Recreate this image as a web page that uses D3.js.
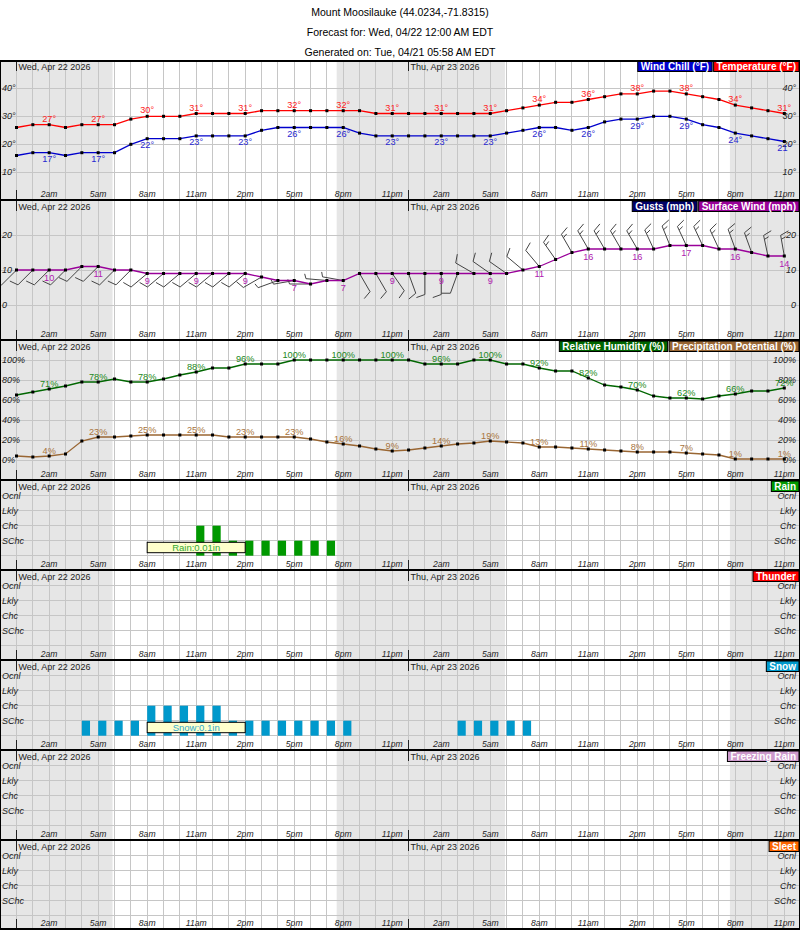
<!DOCTYPE html>
<html><head><meta charset="utf-8">
<script src="https://cdn.jsdelivr.net/npm/d3@7"></script>
<style>
body{margin:0;background:#fff;}
svg{display:block;font-family:"Liberation Sans",Arial,Helvetica,sans-serif;}
</style></head><body>
<svg id="chart" width="800" height="930"></svg>
<script>
// ---------------- DATA ----------------
const titleLines = [
  "Mount Moosilauke (44.0234,-71.8315)",
  "Forecast for: Wed, 04/22 12:00 AM EDT",
  "Generated on: Tue, 04/21 05:58 AM EDT"
];
const dayLabels = ["Wed, Apr 22 2026", "Thu, Apr 23 2026"];
const dayStartHours = [0, 24];
const tickHours = [2,5,8,11,14,17,20,23,26,29,32,35,38,41,44,47];
const tickLabels = ["2am","5am","8am","11am","2pm","5pm","8pm","11pm","2am","5am","8am","11am","2pm","5pm","8pm","11pm"];
const nightPeriods = [[-1.2, 5.88], [19.6, 29.9], [43.67, 49]];

const temperature = [26,27,27,26,27,27,27,29,30,30,30,31,31,31,31,32,32,32,32,32,32,32,31,31,
                     31,31,31,31,31,31,32,33,34,35,35,36,37,38,38,39,39,38,37,36,34,33,32,31];
const windChill   = [16,17,17,16,17,17,17,20,22,22,22,23,23,23,23,25,26,26,26,26,26,24,23,23,
                     23,23,23,23,23,23,24,25,26,26,25,26,28,29,29,30,30,29,27,26,24,23,22,21];
const windSpeed   = [10,10,10,10,11,11,10,10,9,9,9,9,9,9,9,8,7,7,6,7,7,9,9,9,
                     9,9,9,9,9,9,9,10,11,13,15,16,16,16,16,16,17,17,17,16,16,15,14,14];
const windDir     = [225,225,225,225,225,225,225,225,230,230,230,230,230,230,230,240,250,260,270,275,280,150,150,145,
                     160,180,180,200,300,305,305,310,320,325,330,330,330,330,330,335,338,335,335,335,340,340,348,350];
const humidity    = [65,68,71,74,78,78,81,78,78,81,85,88,92,92,96,96,96,100,100,100,100,100,100,100,
                     100,96,96,96,100,100,96,96,92,89,89,82,75,73,70,64,62,62,61,64,66,69,69,72];
const precipPot   = [4,3,4,6,19,23,23,24,25,25,25,25,25,23,23,23,23,23,21,18,16,14,11,9,
                     10,12,14,16,17,19,18,17,13,13,12,11,10,9,8,8,8,7,6,5,1,1,1,1];
// category levels: 0 none, 1 SChc, 2 Chc, 3 Lkly, 4 Ocnl
const rainLevel   = [0,0,0,0,0,0,0,0,0,0,0,2,2,1,1,1,1,1,1,1,0,0,0,0,
                     0,0,0,0,0,0,0,0,0,0,0,0,0,0,0,0,0,0,0,0,0,0,0,0];
const thunderLevel= [0,0,0,0,0,0,0,0,0,0,0,0,0,0,0,0,0,0,0,0,0,0,0,0,
                     0,0,0,0,0,0,0,0,0,0,0,0,0,0,0,0,0,0,0,0,0,0,0,0];
const snowLevel   = [0,0,0,0,1,1,1,1,2,2,2,2,2,1,1,1,1,1,1,1,1,0,0,0,
                     0,0,0,1,1,1,1,1,0,0,0,0,0,0,0,0,0,0,0,0,0,0,0,0];
const frzRainLevel= [0,0,0,0,0,0,0,0,0,0,0,0,0,0,0,0,0,0,0,0,0,0,0,0,
                     0,0,0,0,0,0,0,0,0,0,0,0,0,0,0,0,0,0,0,0,0,0,0,0];
const sleetLevel  = [0,0,0,0,0,0,0,0,0,0,0,0,0,0,0,0,0,0,0,0,0,0,0,0,
                     0,0,0,0,0,0,0,0,0,0,0,0,0,0,0,0,0,0,0,0,0,0,0,0];
const categoryNames = ["SChc","Chc","Lkly","Ocnl"];
const qpfPeriod = [8, 14];
const rainTotalText = "Rain:0.01in";
const snowTotalText = "Snow:0.1in";
const tempTicks = [10,20,30,40];
const windTicks = [0,10,20];
const pctTicks = [0,20,40,60,80,100];

// ---------------- DRAW ----------------
const svg = d3.select("#chart");
const W = 800;
const x = d3.scaleLinear().domain([0, 47]).range([16.5, 784.3]);
const hourIdx = temperature.map((d, i) => i);

svg.append("g").selectAll("text").data(titleLines).join("text")
  .attr("x", 400).attr("y", (d, i) => 15.5 + i * 20)
  .attr("text-anchor", "middle").attr("font-size", 10.5).attr("fill", "#000").text(d => d);

function drawBase(top, bottom, y, gridVals) {
  const g = svg.append("g");
  g.append("rect").attr("x", 0).attr("y", top).attr("width", W).attr("height", bottom - top).attr("fill", "#fff");
  g.selectAll("rect.night").data(nightPeriods).join("rect").attr("class", "night")
    .attr("x", d => Math.max(1, x(d[0])))
    .attr("width", d => Math.min(799, x(d[1])) - Math.max(1, x(d[0])))
    .attr("y", top).attr("height", bottom - top).attr("fill", "#e6e6e6");
  const grid = g.append("g").attr("stroke", "#c6c6c6").attr("stroke-width", 1).attr("shape-rendering", "crispEdges");
  grid.selectAll("line.v").data(hourIdx).join("line").attr("class", "v")
    .attr("x1", d => x(d)).attr("x2", d => x(d)).attr("y1", top).attr("y2", bottom);
  grid.selectAll("line.h").data(gridVals).join("line").attr("class", "h")
    .attr("x1", 1).attr("x2", 799).attr("y1", d => y(d)).attr("y2", d => y(d));
  const ticks = g.append("g").attr("stroke", "#222").attr("stroke-width", 1).attr("shape-rendering", "crispEdges");
  dayStartHours.forEach(h => {
    ticks.append("line").attr("x1", x(h)).attr("x2", x(h)).attr("y1", top + 1).attr("y2", top + 11);
    ticks.append("line").attr("x1", x(h)).attr("x2", x(h)).attr("y1", bottom - 10).attr("y2", bottom);
  });
  g.selectAll("text.day").data(dayLabels).join("text").attr("class", "day")
    .attr("x", (d, i) => x(dayStartHours[i]) + 2).attr("y", top + 10)
    .attr("font-size", 9).attr("fill", "#222").text(d => d);
  g.selectAll("text.hr").data(tickHours).join("text").attr("class", "hr")
    .attr("x", d => x(d)).attr("y", bottom - 3.5).attr("text-anchor", "middle")
    .attr("font-size", 8.6).attr("font-style", "italic").attr("fill", "#222")
    .text((d, i) => tickLabels[i]);
  return g;
}

function yLabels(g, vals, y, fmt) {
  [[2, "start"], [796, "end"]].forEach(([xx, anchor]) => {
    g.append("g").selectAll("text").data(vals).join("text")
      .attr("x", xx).attr("y", d => y(d)).attr("dy", "0.33em")
      .attr("text-anchor", anchor).attr("font-size", 9).attr("font-style", "italic").attr("fill", "#222")
      .text(fmt);
  });
}

function legend(g, top, entries) {
  let right = 799;
  const lg = g.append("g");
  entries.slice().reverse().forEach(e => {
    const tmp = lg.append("text").attr("font-size", 10).attr("font-weight", "bold").text(e.text);
    const w = tmp.node().getComputedTextLength() + 6;
    tmp.remove();
    lg.append("rect")
      .attr("x", right - w).attr("y", top + 1).attr("width", w).attr("height", 10.5)
      .attr("fill", e.color).attr("stroke", "#000").attr("stroke-width", 1);
    lg.append("text").attr("font-size", 10).attr("font-weight", "bold").attr("fill", "#fff")
      .attr("x", right - w / 2).attr("y", top + 9.7).attr("text-anchor", "middle").text(e.text);
    right -= w + 1.5;
  });
}

function series(g, data, y, color) {
  const line = d3.line().x((d, i) => x(i)).y(d => y(d));
  g.append("path").datum(data).attr("d", line).attr("fill", "none").attr("stroke", color).attr("stroke-width", 1.3);
  g.append("g").selectAll("rect").data(data).join("rect")
    .attr("x", (d, i) => x(i) - 1.5).attr("y", d => y(d) - 1.5).attr("width", 3).attr("height", 3).attr("fill", "#000");
}
function seriesLabels(g, data, y, labelColor, labelDy, suffix) {
  g.append("g").selectAll("text").data(tickHours).join("text")
    .attr("x", h => x(h)).attr("y", h => y(data[h]) + labelDy)
    .attr("text-anchor", "middle").attr("font-size", 9.2).attr("fill", labelColor)
    .text(h => data[h] + suffix);
}

// Panel 1: temperature
{
  const top = 60, bottom = 200;
  const y = d3.scaleLinear().domain([0, 50]).range([200.3, 60.3]);
  const g = drawBase(top, bottom, y, tempTicks);
  yLabels(g, tempTicks, y, d => d + "°");
  series(g, windChill, y, "#0000cc");
  series(g, temperature, y, "#ff0000");
  seriesLabels(g, temperature, y, "#ff2020", -3, "°");
  seriesLabels(g, windChill, y, "#2828d0", 9.5, "°");
  legend(g, top, [{text: "Wind Chill (°F)", color: "#0000cc"}, {text: "Temperature (°F)", color: "#ff0000"}]);
}

// Panel 2: wind
{
  const top = 200, bottom = 340;
  const y = d3.scaleLinear().domain([-10, 30]).range([340, 200]);
  const g = drawBase(top, bottom, y, windTicks);
  yLabels(g, windTicks, y, d => d);
  const barbs = g.append("g").attr("stroke", "#444").attr("stroke-width", 1).attr("fill", "none");
  windSpeed.forEach((s, i) => {
    const th = windDir[i] * Math.PI / 180;
    const ux = Math.sin(th), uy = -Math.cos(th);
    const px = Math.cos(th), py = Math.sin(th);
    const L = 21;
    const x0 = x(i), y0 = y(s);
    const tx = x0 + ux * L, ty = y0 + uy * L;
    barbs.append("line").attr("x1", x0).attr("y1", y0).attr("x2", tx).attr("y2", ty);
    const v = Math.round(s / 5) * 5;
    const full = Math.floor(v / 10), half = (v % 10) / 5;
    const fx = px * 0.94 + ux * 0.34, fy = py * 0.94 + uy * 0.34;
    let pos = 0;
    for (let k = 0; k < full; k++) {
      const bx = tx - ux * pos, by = ty - uy * pos;
      barbs.append("line").attr("x1", bx).attr("y1", by).attr("x2", bx + fx * 9).attr("y2", by + fy * 9);
      pos += 4;
    }
    if (half) {
      const bx = tx - ux * pos, by = ty - uy * pos;
      barbs.append("line").attr("x1", bx).attr("y1", by).attr("x2", bx + fx * 5).attr("y2", by + fy * 5);
    }
  });
  series(g, windSpeed, y, "#990099");
  seriesLabels(g, windSpeed, y, "#b020b0", 10.5, "");
  legend(g, top, [{text: "Gusts (mph)", color: "#000066"}, {text: "Surface Wind (mph)", color: "#990099"}]);
}

// Panel 3: humidity & precip potential
{
  const top = 340, bottom = 480;
  const y = d3.scaleLinear().domain([-20, 120]).range([480, 340]);
  const g = drawBase(top, bottom, y, pctTicks);
  yLabels(g, pctTicks, y, d => d + "%");
  series(g, precipPot, y, "#996633");
  series(g, humidity, y, "#006600");
  seriesLabels(g, humidity, y, "#228822", -2.5, "%");
  seriesLabels(g, precipPot, y, "#a87440", -2.5, "%");
  legend(g, top, [{text: "Relative Humidity (%)", color: "#006600"}, {text: "Precipitation Potential (%)", color: "#996633"}]);
}

// Category panels
const catPanels = [
  {top: 480, bottom: 570, data: rainLevel, name: "Rain", color: "#009900", total: rainTotalText, totalColor: "#33aa33"},
  {top: 570, bottom: 660, data: thunderLevel, name: "Thunder", color: "#ff0000"},
  {top: 660, bottom: 750, data: snowLevel, name: "Snow", color: "#0099cc", total: snowTotalText, totalColor: "#33aacc"},
  {top: 750, bottom: 840, data: frzRainLevel, name: "Freezing Rain", color: "#cc99cc"},
  {top: 840, bottom: 929, data: sleetLevel, name: "Sleet", color: "#ff6600"}
];
catPanels.forEach(p => {
  const y = d3.scaleLinear().domain([0, 4]).range([p.top + 75.7, p.top + 15.7]);
  const g = drawBase(p.top, p.bottom, y, [0, 1, 2, 3, 4]);
  [[2, "start"], [796, "end"]].forEach(([xx, anchor]) => {
    g.append("g").selectAll("text").data(categoryNames).join("text")
      .attr("x", xx).attr("y", (d, i) => y(i + 1)).attr("dy", "0.33em")
      .attr("text-anchor", anchor).attr("font-size", 9).attr("font-style", "italic").attr("fill", "#222")
      .text(d => d);
  });
  const bw = (x(1) - x(0)) / 2;
  g.append("g").selectAll("rect").data(p.data.map((v, i) => ({v, i})).filter(d => d.v > 0)).join("rect")
    .attr("x", d => x(d.i)).attr("width", bw)
    .attr("y", d => y(d.v)).attr("height", d => y(0) - y(d.v))
    .attr("fill", p.color);
  if (p.total) {
    g.append("rect").attr("x", x(qpfPeriod[0])).attr("y", p.top + 62.3)
      .attr("width", x(qpfPeriod[1]) - x(qpfPeriod[0])).attr("height", 10.4)
      .attr("fill", "#ffffcc").attr("stroke", "#000").attr("stroke-width", 1);
    g.append("text").attr("x", (x(qpfPeriod[0]) + x(qpfPeriod[1])) / 2).attr("y", p.top + 71)
      .attr("text-anchor", "middle").attr("font-size", 9.5).attr("fill", p.totalColor).text(p.total);
  }
  legend(g, p.top, [{text: p.name, color: p.color}]);
});

// Borders
const border = svg.append("g").attr("stroke", "#000").attr("shape-rendering", "crispEdges");
[61, 200, 340, 480, 570, 660, 750, 840, 928.5].forEach(yy => {
  border.append("line").attr("x1", 0).attr("x2", 800).attr("y1", yy).attr("y2", yy).attr("stroke-width", 2);
});
border.append("line").attr("x1", 0.5).attr("x2", 0.5).attr("y1", 60).attr("y2", 930).attr("stroke-width", 1);
border.append("line").attr("x1", 799.5).attr("x2", 799.5).attr("y1", 60).attr("y2", 930).attr("stroke-width", 1);
</script>
</body></html>
